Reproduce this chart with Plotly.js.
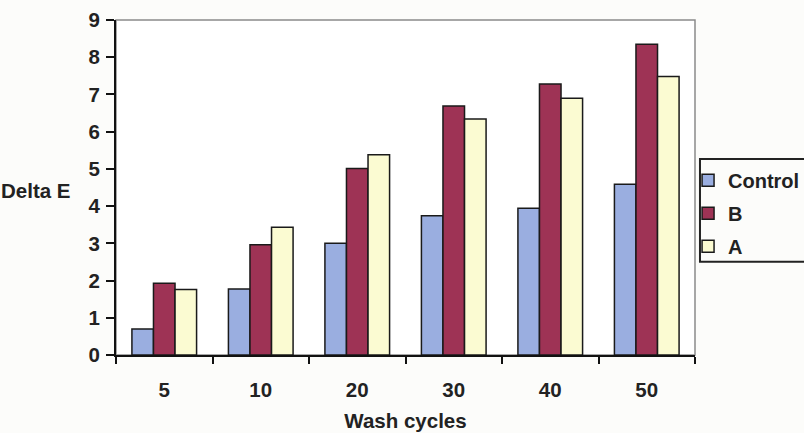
<!DOCTYPE html>
<html>
<head>
<meta charset="utf-8">
<script src="https://cdn.plot.ly/plotly-3.0.1.min.js"></script>
<style>
  html, body { margin: 0; padding: 0; background: #fcfcfa; }
  #chart { width: 804px; height: 433px; }
</style>
</head>
<body>
<div id="chart"></div>
<script>
// Colour change (Delta E) after repeated washing
var washCycles = ['5', '10', '20', '30', '40', '50'];
var controlValues = [0.70, 1.77, 3.00, 3.74, 3.94, 4.59];
var bValues = [1.93, 2.96, 5.01, 6.69, 7.28, 8.35];
var aValues = [1.76, 3.43, 5.38, 6.34, 6.90, 7.48];
var yTicks = [0, 1, 2, 3, 4, 5, 6, 7, 8, 9];

var fontFamily = 'Liberation Sans, Arial, sans-serif';
var textColor = '#222';
var barOutline = { color: '#1a1a1a', width: 1.5 };
var boldFont = { family: fontFamily, size: 20.5, color: textColor, weight: 'bold' };
var legendFont = { family: fontFamily, size: 20, color: textColor, weight: 'bold' };

function barTrace(name, values, color) {
  return {
    type: 'bar',
    name: name,
    legendgroup: name,
    x: washCycles,
    y: values,
    marker: { color: color, line: barOutline },
    hoverinfo: 'x+y+name'
  };
}

var data = [
  barTrace('Control', controlValues, '#9aaee0'),
  barTrace('B', bValues, '#9e3355'),
  barTrace('A', aValues, '#fbfbd2')
];

var layout = {
  width: 804,
  height: 433,
  margin: { l: 116, r: 109, t: 20, b: 78, autoexpand: false },
  paper_bgcolor: '#fcfcfa',
  plot_bgcolor: '#ffffff',
  font: boldFont,
  barmode: 'group',
  bargap: 0.33,
  bargroupgap: 0,
  showlegend: true,
  legend: {
    x: 0.988, xanchor: 'left',
    y: 0.58, yanchor: 'top',
    bgcolor: 'rgba(0,0,0,0)',
    borderwidth: 0,
    itemwidth: 30,
    traceorder: 'grouped',
    tracegroupgap: 4,
    font: legendFont
  },
  xaxis: {
    type: 'category',
    tickson: 'boundaries',
    ticks: 'outside',
    ticklen: 7,
    tickwidth: 2,
    tickcolor: '#111',
    showline: true,
    linecolor: '#111',
    linewidth: 2,
    showgrid: false,
    ticklabelstandoff: 15,
    tickfont: boldFont,
    title: { text: 'Wash cycles', standoff: 14, font: boldFont }
  },
  yaxis: {
    range: [0, 9],
    tickvals: yTicks,
    ticks: 'outside',
    ticklen: 8,
    tickwidth: 2,
    tickcolor: '#111',
    showline: true,
    linecolor: '#111',
    linewidth: 2,
    showgrid: false,
    zeroline: false,
    ticklabelstandoff: 2,
    tickfont: boldFont
  },
  shapes: [
    {
      // plot frame (top and right edges stay thin and grey)
      type: 'rect', xref: 'paper', yref: 'paper',
      x0: 0, x1: 1, y0: 0, y1: 1,
      line: { color: '#8a8a8a', width: 1.5 },
      layer: 'below'
    },
    {
      // legend frame, running past the right edge of the page
      type: 'rect', xref: 'paper', yref: 'paper',
      x0: 1.0086, x1: 1.25, y0: 0.278, y1: 0.585,
      line: { color: '#222', width: 2 },
      fillcolor: 'rgba(0,0,0,0)',
      layer: 'above'
    }
  ],
  annotations: [{
    text: 'Delta E',
    xref: 'paper', yref: 'paper',
    x: -0.138, y: 0.49,
    xanchor: 'center', yanchor: 'middle',
    showarrow: false,
    font: boldFont
  }]
};

Plotly.newPlot('chart', data, layout, { displayModeBar: false, staticPlot: true });
</script>
</body>
</html>
